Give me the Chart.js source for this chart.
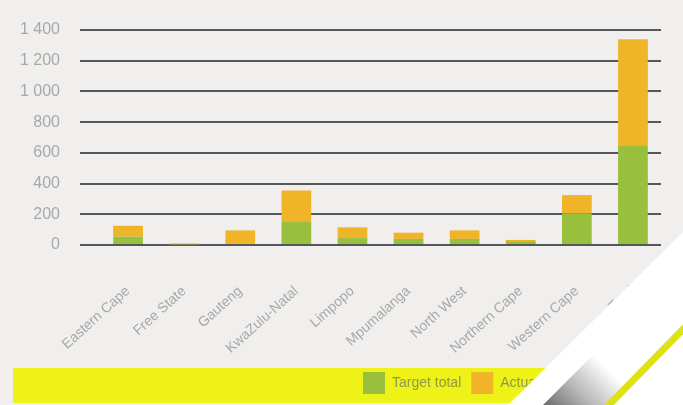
<!DOCTYPE html>
<html>
<head>
<meta charset="utf-8">
<script src="https://cdn.jsdelivr.net/npm/chart.js@4/dist/chart.umd.min.js"></script>
<style>
  html, body { margin: 0; padding: 0; background: #f1efed; }
  #wrap { width: 683px; height: 405px; }
</style>
</head>
<body>
<div id="wrap"><canvas id="provChart" width="683" height="405"></canvas></div>
<script>
const provinces = ['Eastern Cape', 'Free State', 'Gauteng', 'KwaZulu-Natal', 'Limpopo',
    'Mpumalanga', 'North West', 'Northern Cape', 'Western Cape', 'Total'];
const targetTotal = [55, 5, 10, 150, 45, 40, 40, 25, 205, 650];
const actualTotal = [70, 5, 85, 205, 70, 40, 55, 8, 120, 690];
const yTicks = [0, 200, 400, 600, 800, 1000, 1200, 1400];

function spaced(v) {
    return String(v).replace(/\B(?=(\d{3})+(?!\d))/g, ' ');
}

// paper background, yellow legend strip and the diagonal corner decoration
const decor = {
    id: 'decor',
    beforeDraw(chart) {
        const c = chart.ctx;
        c.save();
        c.fillStyle = '#f1efed';
        c.fillRect(0, 0, chart.width, chart.height);
        c.fillStyle = '#eef216';
        c.fillRect(13, 368, 560, 35);
        c.restore();
    },
    afterLayout(chart) {
        // push the legend to the right part of the strip
        chart.legend.left = 353;
        chart.legend.top = 362;
    },
    afterDraw(chart) {
        const c = chart.ctx;
        c.save();
        // white stripe
        c.fillStyle = '#ffffff';
        c.beginPath();
        c.moveTo(508, 405);
        c.lineTo(683, 232);
        c.lineTo(683, 405);
        c.closePath();
        c.fill();
        // grey shaded band
        const g = c.createLinearGradient(560, 420, 610, 370);
        g.addColorStop(0, '#6d6d6d');
        g.addColorStop(0.45, '#b5b5b5');
        g.addColorStop(1, '#ffffff');
        c.fillStyle = g;
        c.beginPath();
        c.moveTo(543, 405);
        c.lineTo(683, 265);
        c.lineTo(683, 330);
        c.lineTo(608, 405);
        c.closePath();
        c.fill();
        // yellow line
        c.strokeStyle = '#dde214';
        c.lineWidth = 7;
        c.beginPath();
        c.moveTo(606, 408);
        c.lineTo(690, 322);
        c.stroke();
        c.restore();
    }
};

new Chart(document.getElementById('provChart'), {
    type: 'bar',
    data: {
        labels: provinces,
        datasets: [{
            label: 'Target total',
            data: targetTotal,
            backgroundColor: '#98c03c',
            borderWidth: 0
        }, {
            label: 'Actual total',
            data: actualTotal,
            backgroundColor: '#f0b428',
            borderWidth: 0
        }]
    },
    options: {
        responsive: false,
        animation: false,
        layout: { padding: { top: 30, right: 22, left: 0, bottom: 0 } },
        datasets: { bar: { barPercentage: 0.53, categoryPercentage: 1 } },
        plugins: {
            tooltip: { enabled: false },
            legend: {
                position: 'bottom',
                align: 'start',
                labels: {
                    boxWidth: 22,
                    boxHeight: 22,
                    padding: 10,
                    color: '#8f9a46',
                    font: { family: 'Liberation Sans', size: 14 }
                }
            }
        },
        scales: {
            x: {
                stacked: true,
                grid: { display: false },
                border: { display: false },
                afterFit(s) { s.height = 118; },
                ticks: {
                    color: '#a8a8a8',
                    minRotation: 42,
                    maxRotation: 42,
                    padding: 30,
                    font: { family: 'Liberation Sans', size: 14 }
                }
            },
            y: {
                stacked: true,
                min: 0,
                max: 1400,
                afterFit(s) { s.width = 100; },
                afterBuildTicks(s) { s.ticks = yTicks.map(v => ({ value: v })); },
                border: { display: false },
                grid: { color: '#575757', lineWidth: 2, tickLength: 20 },
                ticks: {
                    color: '#a8a8a8',
                    padding: 20,
                    font: { family: 'Liberation Sans', size: 16 },
                    callback: v => spaced(v)
                }
            }
        }
    },
    plugins: [decor]
});
</script>
</body>
</html>
